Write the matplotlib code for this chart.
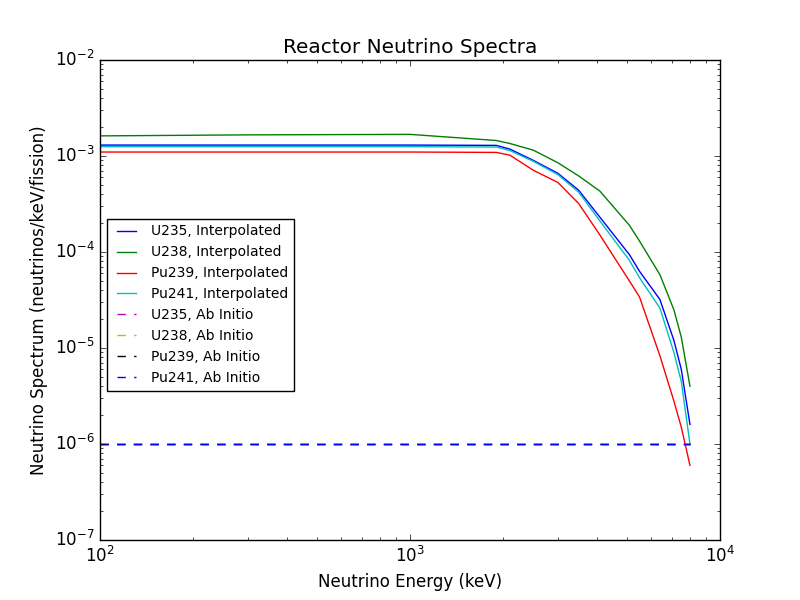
import numpy as np
import matplotlib
matplotlib.use('Agg')
import matplotlib.pyplot as plt

plt.style.use('classic')

energy = [100, 300, 1000, 1900, 2100, 2500, 3000, 3500, 4100, 5100, 5500, 6400, 7100, 7500, 8000]
u235 = [1.30e-3, 1.30e-3, 1.30e-3, 1.29e-3, 1.18e-3, 9.0e-4, 6.6e-4, 4.4e-4, 2.3e-4, 9.4e-5, 6.3e-5, 3.2e-5, 1.2e-5, 6.0e-6, 1.6e-6]
u238 = [1.62e-3, 1.66e-3, 1.68e-3, 1.45e-3, 1.35e-3, 1.15e-3, 8.5e-4, 6.2e-4, 4.3e-4, 1.9e-4, 1.3e-4, 5.8e-5, 2.5e-5, 1.3e-5, 4.0e-6]
pu239 = [1.10e-3, 1.10e-3, 1.10e-3, 1.09e-3, 1.02e-3, 7.1e-4, 5.3e-4, 3.2e-4, 1.5e-4, 5.0e-5, 3.4e-5, 8.3e-6, 2.8e-6, 1.5e-6, 6.0e-7]
pu241 = [1.25e-3, 1.25e-3, 1.25e-3, 1.24e-3, 1.14e-3, 8.8e-4, 6.4e-4, 4.2e-4, 2.1e-4, 8.2e-5, 5.4e-5, 2.6e-5, 9.0e-6, 4.5e-6, 1.0e-6]
ab_initio = [1e-6] * len(energy)

fig, ax = plt.subplots(figsize=(8, 6), dpi=100)
fig.subplots_adjust(left=0.125, right=0.9, bottom=0.1, top=0.9)

ax.plot(energy, u235, color='b', label='U235, Interpolated')
ax.plot(energy, u238, color='g', label='U238, Interpolated')
ax.plot(energy, pu239, color='r', label='Pu239, Interpolated')
ax.plot(energy, pu241, color='c', label='Pu241, Interpolated')
ax.plot(energy, ab_initio, '--', color='m', label='U235, Ab Initio')
ax.plot(energy, ab_initio, '--', color='y', label='U238, Ab Initio')
ax.plot(energy, ab_initio, '--', color='k', label='Pu239, Ab Initio')
ax.plot(energy, ab_initio, '--', color='b', label='Pu241, Ab Initio')

ax.set_xscale('log')
ax.set_yscale('log')
ax.set_xlim(100, 1e4)
ax.set_ylim(1e-7, 1e-2)
ax.set_title('Reactor Neutrino Spectra')
ax.set_xlabel('Neutrino Energy (keV)')
ax.set_ylabel('Neutrino Spectrum (neutrinos/keV/fission)')
ax.legend(loc='center left', bbox_to_anchor=(0.0, 0.49), fontsize=10)

fig.savefig('out.png', dpi=100)
